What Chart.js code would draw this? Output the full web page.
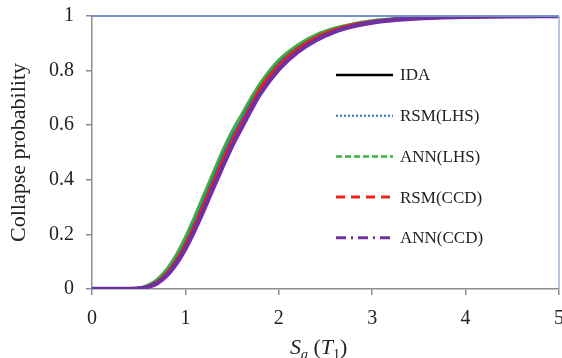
<!DOCTYPE html>
<html>
<head>
<meta charset="utf-8">
<script src="https://cdn.jsdelivr.net/npm/chart.js@4"></script>
<style>
  body { margin: 0; background: #fff; }
  #wrap { width: 562px; height: 358px; position: relative; }
</style>
</head>
<body>
<div id="wrap"><canvas id="fragility"></canvas></div>
<script>
const sa = [0, 0.3, 0.5, 0.6, 0.7, 0.8, 0.9, 1.0, 1.1, 1.2, 1.3, 1.4, 1.5, 1.6, 1.7, 1.8, 2.0, 2.2, 2.4, 2.6, 2.8, 3.0, 3.25, 3.5, 3.75, 4.0, 4.5, 5.0];

const ida    = [0, 0, 0.003, 0.012, 0.031, 0.065, 0.113, 0.176, 0.25, 0.33, 0.41, 0.49, 0.56, 0.62, 0.685, 0.745, 0.83, 0.888, 0.928, 0.954, 0.971, 0.982, 0.990, 0.995, 0.997, 0.998, 0.9995, 1];
const rsmLhs = [0, 0, 0.003, 0.012, 0.032, 0.066, 0.115, 0.178, 0.252, 0.332, 0.412, 0.492, 0.562, 0.622, 0.687, 0.747, 0.832, 0.889, 0.929, 0.955, 0.971, 0.982, 0.990, 0.995, 0.997, 0.998, 0.9995, 1];
const annLhs = [0, 0, 0.004, 0.015, 0.037, 0.074, 0.126, 0.192, 0.268, 0.35, 0.43, 0.51, 0.58, 0.64, 0.70, 0.755, 0.84, 0.895, 0.933, 0.957, 0.973, 0.984, 0.991, 0.995, 0.997, 0.998, 0.9995, 1];
const rsmCcd = [0, 0, 0.002, 0.010, 0.027, 0.058, 0.103, 0.163, 0.235, 0.313, 0.393, 0.472, 0.545, 0.607, 0.670, 0.735, 0.82, 0.88, 0.922, 0.95, 0.968, 0.979, 0.988, 0.994, 0.996, 0.998, 0.9995, 1];
const annCcd = [0, 0, 0.002, 0.008, 0.022, 0.050, 0.092, 0.148, 0.217, 0.293, 0.372, 0.450, 0.525, 0.590, 0.655, 0.715, 0.805, 0.868, 0.912, 0.943, 0.963, 0.976, 0.986, 0.992, 0.995, 0.997, 0.999, 1];

const seriesNames = ['IDA', 'RSM(LHS)', 'ANN(LHS)', 'RSM(CCD)', 'ANN(CCD)'];
const xTicks = [0, 1, 2, 3, 4, 5];
const yTicks = [0, 0.2, 0.4, 0.6, 0.8, 1];

const pts = arr => sa.map((x, i) => ({ x: x, y: arr[i] }));

const styles = [
    { color: '#000000', width: 2.5, dash: [] },
    { color: '#2e75b6', width: 2,   dash: [2, 2] },
    { color: '#3cb043', width: 2.5, dash: [6, 3] },
    { color: '#e8261c', width: 3.5, dash: [9, 6] },
    { color: '#7030a0', width: 4.5, dash: [10, 5, 2, 5] },
];

const allSeries = [ida, rsmLhs, annLhs, rsmCcd, annCcd];

const datasets = allSeries.map((arr, i) => ({
    label: seriesNames[i],
    data: pts(arr),
    borderColor: styles[i].color,
    borderWidth: styles[i].width,
    legendDash: styles[i].dash,
    order: allSeries.length - i, // last series ends up on top, like the original
    pointRadius: 0,
    fill: false,
    cubicInterpolationMode: 'monotone',
}));

const serif = '"Liberation Serif", "Times New Roman", serif';

// legend drawn inside the plot, and the frame + x title
const extras = {
    id: 'extras',
    afterDraw(chart) {
        const ctx = chart.ctx;
        const ca = chart.chartArea;
        ctx.save();
        // top & right frame
        ctx.lineWidth = 2;
        ctx.strokeStyle = '#6f93c8';
        ctx.beginPath();
        ctx.moveTo(ca.left, ca.top);
        ctx.lineTo(ca.right, ca.top);
        ctx.stroke();
        ctx.lineWidth = 1.5;
        ctx.strokeStyle = '#9fb4d4';
        ctx.beginPath();
        ctx.moveTo(ca.right, ca.top);
        ctx.lineTo(ca.right, ca.bottom);
        ctx.stroke();

        // legend
        const lx = ca.left + 244, ly = ca.top + 59, step = 40.7;
        chart.data.datasets.forEach((ds, i) => {
            const y = ly + i * step;
            ctx.strokeStyle = ds.borderColor;
            ctx.lineWidth = Math.min(ds.borderWidth, 3);
            ctx.setLineDash(ds.legendDash);
            ctx.beginPath();
            ctx.moveTo(lx, y);
            ctx.lineTo(lx + 57, y);
            ctx.stroke();
            ctx.setLineDash([]);
            ctx.fillStyle = '#222';
            ctx.font = '17px ' + serif;
            ctx.textBaseline = 'middle';
            ctx.textAlign = 'left';
            ctx.fillText(ds.label, lx + 64, y + 1);
        });

        // x title: Sa (T1)
        const parts = [
            { t: 'S', f: 'italic 22px ' + serif, dy: 0 },
            { t: 'a', f: 'italic 14px ' + serif, dy: 5 },
            { t: ' (', f: '22px ' + serif, dy: 0 },
            { t: 'T', f: 'italic 22px ' + serif, dy: 0 },
            { t: '1', f: '14px ' + serif, dy: 5 },
            { t: ')', f: '22px ' + serif, dy: 0 },
        ];
        let x = 290;
        const base = 354;
        ctx.textBaseline = 'alphabetic';
        parts.forEach(p => {
            ctx.font = p.f;
            ctx.fillText(p.t, x, base + p.dy);
            x += ctx.measureText(p.t).width;
        });
        ctx.restore();
    }
};

new Chart(document.getElementById('fragility'), {
    type: 'line',
    data: { datasets: datasets },
    options: {
        responsive: true,
        maintainAspectRatio: false,
        animation: false,
        layout: { padding: { left: 0, top: 16, right: 3, bottom: 0 } },
        plugins: {
            legend: { display: false },
            tooltip: { enabled: false },
        },
        scales: {
            x: {
                type: 'linear',
                min: 0,
                max: 5,
                afterBuildTicks: axis => { axis.ticks = xTicks.map(v => ({ value: v })); },
                afterFit: axis => { axis.height = 69; axis.paddingLeft = 0; axis.paddingRight = 0; },
                grid: { drawOnChartArea: false, drawTicks: true, tickLength: 6, color: '#8c8c8c', lineWidth: 1.5 },
                border: { color: '#8c8c8c', width: 1.5 },
                ticks: { padding: 12, color: '#222', font: { family: serif, size: 20 }, callback: v => String(v) },
            },
            y: {
                min: 0,
                max: 1,
                afterBuildTicks: axis => { axis.ticks = yTicks.map(v => ({ value: v })); },
                afterFit: axis => { axis.width = 92; axis.paddingTop = 0; axis.paddingBottom = 0; },
                grid: { drawOnChartArea: false, drawTicks: true, tickLength: 6, color: '#8c8c8c', lineWidth: 1.5 },
                border: { color: '#8c8c8c', width: 1.5 },
                ticks: { padding: 12, color: '#222', font: { family: serif, size: 20 }, callback: v => String(v) },
                title: {
                    display: true,
                    text: 'Collapse probability',
                    color: '#222',
                    font: { family: serif, size: 22 },
                    padding: { top: 6, bottom: 0 },
                },
            },
        },
    },
    plugins: [extras],
});
</script>
</body>
</html>
